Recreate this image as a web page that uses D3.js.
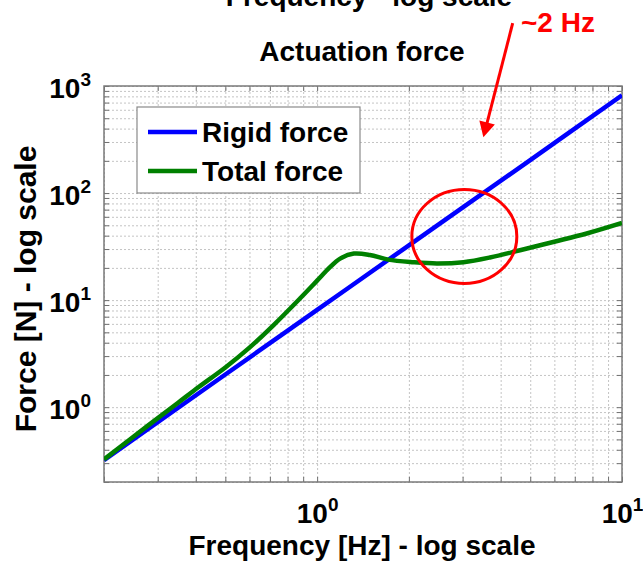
<!DOCTYPE html>
<html>
<head>
<meta charset="utf-8">
<script src="https://cdn.jsdelivr.net/npm/d3@7"></script>
<style>
  html, body { margin: 0; padding: 0; background: #fff; }
  svg { display: block; }
  text { font-family: "Liberation Sans", Arial, sans-serif; font-weight: bold; }
</style>
</head>
<body>
<svg id="chart" width="643" height="563"></svg>
<script>
// ---- data ----
const seriesNames = ["Rigid force", "Total force"];
const rigidFreq  = [0.2, 0.5, 1, 2, 5, 10];
const rigidForce = [0.32, 2.02, 8.1, 32.5, 203, 820];
const totalFreq  = [0.2, 0.28, 0.35, 0.41, 0.5, 0.6, 0.72, 0.88, 1.0, 1.1, 1.19, 1.32, 1.49, 1.71, 2.07, 2.47, 3.02, 3.69, 4.63, 5.95, 7.66, 10];
const totalForce = [0.325, 0.68, 1.1, 1.55, 2.35, 3.6, 5.85, 10.4, 15.2, 20.2, 24.4, 27.2, 26.4, 23.9, 22.6, 22.0, 22.6, 25.0, 29.2, 34.9, 41.9, 52.6];
const xMajorTicks = [1, 10];
const yMajorTicks = [1, 10, 100, 1000];
const xGridTicks = [0.2,0.3,0.4,0.5,0.6,0.7,0.8,0.9,1,2,3,4,5,6,7,8,9,10];
const yGridTicks = [0.2,0.3,0.4,0.5,0.6,0.7,0.8,0.9,1,2,3,4,5,6,7,8,9,10,20,30,40,50,60,70,80,90,100,200,300,400,500,600,700,800,900,1000];
const titleTop = "Frequency - log scale";
const title = "Actuation force";
const xLabel = "Frequency [Hz] - log scale";
const yLabel = "Force [N] - log scale";
const annotationText = "~2 Hz";
// annotation anchors in data units
const circleCenter = [3.04, 39.3];
const arrowFrom = [4.38, 3860];
const arrowTo = [3.51, 333];

// ---- layout ----
const svg = d3.select("#chart");
const L = 104, R = 622, T = 86, B = 482;
const x = d3.scaleLog().domain([0.2, 10]).range([L, R]);
const y = d3.scaleLog().domain([0.2, 1000]).range([B, T]);
const plotW = R - L, plotH = B - T;

svg.append("rect").attr("x", 0).attr("y", 0).attr("width", 643).attr("height", 563).attr("fill", "#fff");

// grid
const gridStyle = g => {
  g.select(".domain").remove();
  g.selectAll("line").attr("stroke", "#c4c4c4").attr("stroke-width", 1).attr("stroke-dasharray", "2,2");
};
svg.append("g").attr("transform", `translate(0,${B})`)
  .call(d3.axisBottom(x).tickValues(xGridTicks).tickSize(-plotH).tickFormat(""))
  .call(gridStyle);
svg.append("g").attr("transform", `translate(${L},0)`)
  .call(d3.axisLeft(y).tickValues(yGridTicks).tickSize(-plotW).tickFormat(""))
  .call(gridStyle);

// inward tick marks on all four sides
const tickStyle = g => {
  g.select(".domain").remove();
  g.selectAll("line").attr("stroke", "#6f6f6f").attr("stroke-width", 1);
};
svg.append("g").attr("transform", `translate(0,${B})`)
  .call(d3.axisBottom(x).tickValues(xGridTicks).tickSize(-5).tickFormat("")).call(tickStyle);
svg.append("g").attr("transform", `translate(0,${T})`)
  .call(d3.axisTop(x).tickValues(xGridTicks).tickSize(-5).tickFormat("")).call(tickStyle);
svg.append("g").attr("transform", `translate(${L},0)`)
  .call(d3.axisLeft(y).tickValues(yGridTicks).tickSize(-5).tickFormat("")).call(tickStyle);
svg.append("g").attr("transform", `translate(${R},0)`)
  .call(d3.axisRight(y).tickValues(yGridTicks).tickSize(-5).tickFormat("")).call(tickStyle);

// frame
svg.append("rect").attr("x", L).attr("y", T).attr("width", plotW).attr("height", plotH)
  .attr("fill", "none").attr("stroke", "#7a7a7a").attr("stroke-width", 1.5);

// tick labels with superscript exponents
function powerLabel(sel) {
  sel.each(function(d) {
    const t = d3.select(this);
    t.text(null).attr("dy", null).attr("fill", "#000");
    t.append("tspan").attr("font-size", 28).text("10");
    t.append("tspan").attr("font-size", 19).attr("dy", -12).text(Math.round(Math.log10(d)));
  });
}
const xAx = svg.append("g").attr("transform", `translate(0,${B})`)
  .call(d3.axisBottom(x).tickValues(xMajorTicks).tickSize(0).tickPadding(0));
xAx.select(".domain").remove();
xAx.selectAll("text").attr("y", 41).call(powerLabel).attr("text-anchor", "middle");

const yAx = svg.append("g").attr("transform", `translate(${L},0)`)
  .call(d3.axisLeft(y).tickValues(yMajorTicks).tickSize(0).tickPadding(0));
yAx.select(".domain").remove();
yAx.selectAll("text").attr("x", -13).call(powerLabel).attr("y", 11).attr("text-anchor", "end");

// lines
const line = d3.line().curve(d3.curveCatmullRom.alpha(0.5)).x(d => x(d[0])).y(d => y(d[1]));
const rigid = rigidFreq.map((f, i) => [f, rigidForce[i]]);
const total = totalFreq.map((f, i) => [f, totalForce[i]]);
const colors = ["#0000ff", "#008000"];
svg.append("clipPath").attr("id", "clip").append("rect")
  .attr("x", L).attr("y", T).attr("width", plotW).attr("height", plotH);
svg.append("path").datum(rigid).attr("d", line).attr("fill", "none")
  .attr("stroke", colors[0]).attr("stroke-width", 4.5).attr("clip-path", "url(#clip)");
svg.append("path").datum(total).attr("d", line).attr("fill", "none")
  .attr("stroke", colors[1]).attr("stroke-width", 4.5).attr("clip-path", "url(#clip)");

// legend
const lg = svg.append("g");
lg.append("rect").attr("x", 137).attr("y", 107).attr("width", 223).attr("height", 86)
  .attr("fill", "#fff").attr("stroke", "#8a8a8a").attr("stroke-width", 1.2);
seriesNames.forEach((name, i) => {
  const cy = 132 + i * 39;
  lg.append("line").attr("x1", 148).attr("x2", 197).attr("y1", cy).attr("y2", cy)
    .attr("stroke", colors[i]).attr("stroke-width", 4.5);
  lg.append("text").attr("x", 202).attr("y", cy + 10).attr("font-size", 28).attr("fill", "#000").text(name);
});

// titles and labels
svg.append("text").attr("x", 369).attr("y", 6).attr("text-anchor", "middle").attr("font-size", 28).text(titleTop);
svg.append("text").attr("x", 362).attr("y", 61).attr("text-anchor", "middle").attr("font-size", 28).text(title);
svg.append("text").attr("x", 362).attr("y", 555).attr("text-anchor", "middle").attr("font-size", 28).text(xLabel);
svg.append("text").attr("transform", "translate(36,289) rotate(-90)").attr("text-anchor", "middle")
  .attr("font-size", 30).text(yLabel);

// annotation: circle, arrow, label
svg.append("ellipse").attr("cx", x(circleCenter[0])).attr("cy", y(circleCenter[1]))
  .attr("rx", 52.5).attr("ry", 47).attr("fill", "none").attr("stroke", "#ff0000").attr("stroke-width", 3);
const ax0 = x(arrowFrom[0]), ay0 = y(arrowFrom[1]), ax1 = x(arrowTo[0]), ay1 = y(arrowTo[1]);
const ang = Math.atan2(ay1 - ay0, ax1 - ax0);
const headLen = 15, headW = 8;
const bx = ax1 - headLen * Math.cos(ang), by = ay1 - headLen * Math.sin(ang);
svg.append("line").attr("x1", ax0).attr("y1", ay0).attr("x2", bx + 3 * Math.cos(ang)).attr("y2", by + 3 * Math.sin(ang))
  .attr("stroke", "#ff0000").attr("stroke-width", 3);
svg.append("polygon").attr("fill", "#ff0000").attr("points", [
  [ax1, ay1],
  [bx + headW * Math.sin(ang), by - headW * Math.cos(ang)],
  [bx - headW * Math.sin(ang), by + headW * Math.cos(ang)]
].map(p => p.join(",")).join(" "));
svg.append("text").attr("x", 521).attr("y", 32).attr("font-size", 28).attr("fill", "#ff0000").text(annotationText);
</script>
</body>
</html>
